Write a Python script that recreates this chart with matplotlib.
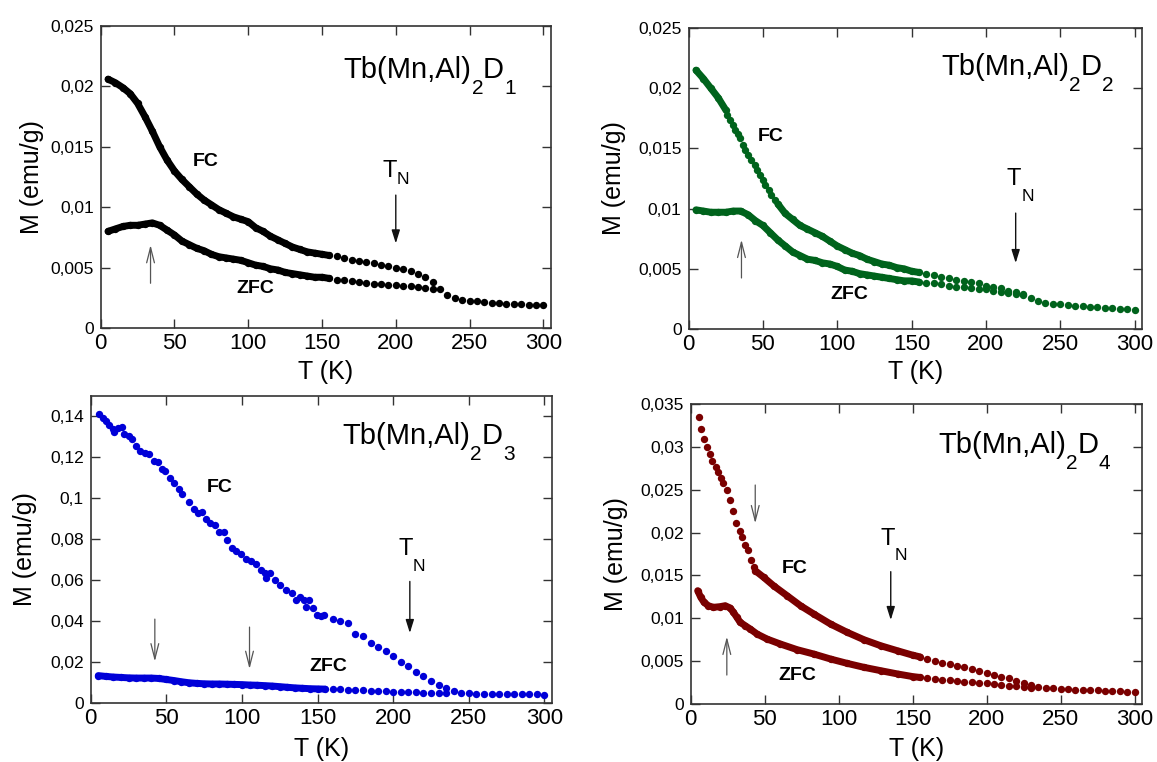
import matplotlib
matplotlib.use("Agg")
import matplotlib.pyplot as plt
import matplotlib.transforms as mtransforms
from matplotlib.ticker import MultipleLocator, FuncFormatter

plt.rcParams['font.family'] = ['Liberation Sans', 'DejaVu Sans']

# temperature grids (K)
t_band = [5, 10, 15, 20, 25, 30, 35, 40, 45, 50, 55, 60, 65, 70, 75, 80, 85, 90, 95, 100,
          105, 110, 115, 120, 125, 130, 135, 140, 145, 150, 155]
t_tail = [160, 165, 170, 175, 180, 185, 190, 195, 200, 205, 210, 215, 220, 225, 230, 235,
          240, 245, 250, 255, 260, 265, 270, 275, 280, 285, 290, 295, 300]

# ---- Tb(Mn,Al)2D1
m1_fc_band = [0.0206, 0.0203, 0.0199, 0.0194, 0.0186, 0.0175, 0.0163, 0.0150, 0.0139, 0.0130,
              0.0123, 0.0117, 0.0111, 0.0106, 0.0102, 0.0098, 0.0095, 0.0092, 0.0090, 0.0088,
              0.0083, 0.0080, 0.0076, 0.0073, 0.0070, 0.0067, 0.0065, 0.0063, 0.0062, 0.0061, 0.0060]
m1_zfc_band = [0.0080, 0.0082, 0.0084, 0.0085, 0.0085, 0.0086, 0.0087, 0.0085, 0.0081, 0.0077,
               0.0072, 0.0069, 0.0066, 0.0064, 0.0061, 0.0059, 0.0058, 0.0057, 0.0056, 0.0054,
               0.0052, 0.0051, 0.0049, 0.0048, 0.0046, 0.0045, 0.0044, 0.0043, 0.0042, 0.0042, 0.0041]
m1_fc_tail = [0.00594, 0.0058, 0.00566, 0.00556, 0.00547, 0.00534, 0.0052, 0.0051, 0.00497,
              0.00485, 0.0047, 0.00445, 0.0042, 0.0038, 0.00326, 0.0027, 0.00249, 0.00235,
              0.00224, 0.0022, 0.00215, 0.0021, 0.00205, 0.00202, 0.00198, 0.00195, 0.00192,
              0.0019, 0.00188]
m1_zfc_tail = [0.0040, 0.00393, 0.00387, 0.0038, 0.00373, 0.00368, 0.00362, 0.00358, 0.00354,
               0.0035, 0.00345, 0.0034, 0.00334, 0.00326]

# ---- Tb(Mn,Al)2D2
t2_fc_lo = [5, 10, 15, 20, 25]
m2_fc_lo = [0.0215, 0.0208, 0.0200, 0.0192, 0.0182]
t2_fc_mid = [26, 27.6, 29.8, 31.4, 33.2, 34.3, 36.5, 38.3, 40.3, 42.1, 44.4, 45.9, 47.8, 50,
             51.5, 53.8, 55.6, 57.9]
m2_fc_mid = [0.0178, 0.01739, 0.01697, 0.01656, 0.0162, 0.01586, 0.01531, 0.0149, 0.01448,
             0.01406, 0.01365, 0.01323, 0.01282, 0.0124, 0.01199, 0.01157, 0.01116, 0.01074]
m2_fc_hi = [0.0104, 0.0096, 0.0091, 0.0086, 0.0083, 0.0080, 0.0077, 0.0073, 0.0069, 0.0066,
            0.0063, 0.0061, 0.0058, 0.0056, 0.0054, 0.0053, 0.0051, 0.0050, 0.0048, 0.0047]
m2_zfc_band = [0.0099, 0.0098, 0.0097, 0.0097, 0.0097, 0.0098, 0.0098, 0.0095, 0.0090, 0.0086,
               0.0080, 0.0074, 0.0069, 0.0064, 0.0061, 0.0058, 0.0057, 0.0055, 0.0054, 0.0052,
               0.0049, 0.0048, 0.0046, 0.0045, 0.0044, 0.0043, 0.0042, 0.0041, 0.0040, 0.0040, 0.0039]
m2_fc_tail = [0.0046, 0.00446, 0.00432, 0.0042, 0.0041, 0.0040, 0.0039, 0.0038, 0.0036, 0.0035,
              0.0034, 0.0032, 0.0031, 0.0029, 0.0026, 0.00235, 0.0022, 0.0021, 0.00205, 0.0020,
              0.00195, 0.0019, 0.00186, 0.0018, 0.00178, 0.00173, 0.00168, 0.00163, 0.0016]
m2_zfc_tail = [0.0038, 0.0038, 0.0037, 0.0036, 0.0035, 0.0035, 0.0034, 0.0033, 0.0033, 0.0032,
               0.0031, 0.0030, 0.0029, 0.0028]

# ---- Tb(Mn,Al)2D3
t3_fc = [5.3, 7.9, 10.1, 11.9, 14.6, 15.6, 18.1, 20.7, 22.3, 25.2, 27.4, 30.2, 32.9, 36.2, 38.8,
         41.7, 44.6, 47.2, 49.4, 52.1, 55.0, 58.3, 60.5, 64.9, 68.2, 71.1, 73.3, 76.4, 79.2, 82.1,
         84.8, 88.1, 90.3, 93.6, 96.2, 99.1, 102.4, 105.7, 109.0, 112.3, 115.2, 116.1, 118.3,
         122.1, 125.4, 129.3, 133.1, 136.0, 138.6, 141.3, 142.6, 144.1, 147.0, 149.7, 152, 154.1]
m3_fc = [0.1411, 0.1394, 0.1378, 0.1357, 0.1337, 0.1324, 0.1345, 0.1349, 0.1313, 0.1305, 0.1291,
         0.1256, 0.1231, 0.1220, 0.1215, 0.1182, 0.1178, 0.1145, 0.1134, 0.1101, 0.1073, 0.1044,
         0.1020, 0.0980, 0.0949, 0.0930, 0.0932, 0.0898, 0.0881, 0.0868, 0.0836, 0.0836, 0.0796,
         0.0759, 0.0745, 0.0727, 0.0702, 0.0694, 0.0680, 0.0652, 0.0634, 0.0609, 0.0634, 0.0601,
         0.0577, 0.0552, 0.0536, 0.0503, 0.0519, 0.0503, 0.0471, 0.0503, 0.0463, 0.0430, 0.0425,
         0.0430]
m3_fc_tail = [0.0409, 0.0402, 0.0392, 0.0337, 0.0327, 0.0295, 0.0275, 0.0256, 0.0230, 0.0202,
              0.0181, 0.0153, 0.0134, 0.0106, 0.0090, 0.0073, 0.0057, 0.0049, 0.0047, 0.0046,
              0.0045, 0.0045, 0.0044, 0.0044, 0.0043, 0.0043, 0.0042, 0.0042, 0.0041]
m3_zfc_band = [0.0134, 0.0130, 0.0127, 0.0125, 0.0123, 0.0122, 0.0122, 0.0122, 0.0120, 0.0115,
               0.0110, 0.0104, 0.0099, 0.0096, 0.0094, 0.0093, 0.0093, 0.0092, 0.0091, 0.0090,
               0.0088, 0.0087, 0.0085, 0.0083, 0.0080, 0.0077, 0.0074, 0.0072, 0.0070, 0.0069, 0.0068]
m3_zfc_tail = [0.0068, 0.0067, 0.0065, 0.0064, 0.0062, 0.0060, 0.0058, 0.0057, 0.0055, 0.0054,
               0.0053, 0.0052, 0.0050, 0.0049, 0.0048, 0.0047]

# ---- Tb(Mn,Al)2D4
t4_fc_lo = [5.6, 7.0, 9.0, 10.9, 13.1, 14.7, 17.0, 18.7, 20.4, 22.1, 24.6, 26.7, 28.5, 30.7,
            33.0, 34.6, 37.0, 38.7, 40.7, 42.5]
m4_fc_lo = [0.03344, 0.03208, 0.03092, 0.02994, 0.02917, 0.02839, 0.02769, 0.02703, 0.02637,
            0.02578, 0.02497, 0.02376, 0.02248, 0.02116, 0.02014, 0.01944, 0.01855, 0.01797,
            0.0168, 0.01594]
t4_fc_band = [43.6, 49.3, 56.0, 65.1, 74.2, 83.2, 94.5, 105.8, 117.1, 128.4, 140, 150, 155]
m4_fc_band = [0.01556, 0.01478, 0.0138, 0.01264, 0.01147, 0.0105, 0.00933, 0.00836, 0.0075,
              0.0068, 0.0062, 0.0057, 0.0055]
t4_zfc_band = [4.7, 6.8, 9.0, 11.9, 15.3, 19.9, 23.3, 26.7, 28.9, 31.2, 33.4, 36.8, 40.2, 44.8,
               51.6, 60.6, 71.9, 83.2, 94.5, 105.8, 117.1, 128.4, 140, 150, 155]
m4_zfc_band = [0.01322, 0.01244, 0.01186, 0.01147, 0.01128, 0.01136, 0.01147, 0.0112, 0.01069,
               0.01011, 0.00953, 0.00914, 0.00875, 0.00817, 0.00758, 0.0070, 0.00634, 0.00583,
               0.00525, 0.00474, 0.00428, 0.00389, 0.0035, 0.0032, 0.0031]
m4_fc_tail = [0.00521, 0.00502, 0.00482, 0.00467, 0.00447, 0.00428, 0.00408, 0.00389, 0.00366,
              0.00342, 0.00319, 0.00307, 0.00268, 0.00249, 0.00222, 0.00202, 0.00191, 0.00183,
              0.00175, 0.00171, 0.00163, 0.00162, 0.0016, 0.00158, 0.00156, 0.00152, 0.00148,
              0.00145, 0.0014]
m4_zfc_tail = [0.0030, 0.00292, 0.00284, 0.0028, 0.00272, 0.00261, 0.00257, 0.00249, 0.00241,
               0.00233, 0.00222, 0.00214, 0.0021, 0.00202, 0.00191]

MS = 5.3   # dot size (pt)
LW = 5.0   # band width for the dense parts


def band(ax, t, m, c):
    ax.plot(t, m, '-o', color=c, lw=LW, ms=MS, mew=0,
            solid_capstyle='round', solid_joinstyle='round')


def dots(ax, t, m, c):
    ax.plot(t, m, 'o', color=c, ms=MS, mew=0)


def pieces(ax, x, y, parts, transform):
    # text made of pieces, each one lowered by some pixels (subscripts)
    renderer = fig.canvas.get_renderer()
    dx = 0.0
    for s, size, drop in parts:
        tr = mtransforms.offset_copy(transform, fig=fig, x=dx, y=-drop, units='dots')
        t = ax.text(x, y, s, transform=tr, fontsize=size, ha='left', va='baseline')
        dx += t.get_window_extent(renderer).width


def arrow(ax, x, y0, y1, dark=True):
    if dark:
        props = dict(arrowstyle='-|>,head_length=0.8,head_width=0.25', color='#111111',
                     lw=1.0, mutation_scale=10, shrinkA=0, shrinkB=0)
    else:
        props = dict(arrowstyle='->,head_length=1.1,head_width=0.28', color='#555555',
                     lw=0.9, mutation_scale=10, shrinkA=0, shrinkB=0)
    ax.annotate('', xy=(x, y1), xytext=(x, y0), arrowprops=props)


def comma(v, pos):
    return ('%g' % v).replace('.', ',')


def setup(ax, ymax, ystep, xl_y, yl_x):
    ax.set_xlim(0, 305)
    ax.set_ylim(0, ymax)
    ax.xaxis.set_major_locator(MultipleLocator(50))
    ax.yaxis.set_major_locator(MultipleLocator(ystep))
    ax.yaxis.set_major_formatter(FuncFormatter(comma))
    ax.tick_params(direction='in', top=True, right=True, length=6.5, width=1.0,
                   color='#333333')
    ax.tick_params(axis='x', labelsize=16, pad=3.5)
    ax.tick_params(axis='y', labelsize=12.5, pad=5)
    for sp in ax.spines.values():
        sp.set_color('#333333')
        sp.set_linewidth(1.2)
    ax.set_xlabel('T (K)', fontsize=18)
    ax.set_ylabel('M (emu/g)', fontsize=18)
    ax.xaxis.set_label_coords(0.5, xl_y)
    ax.yaxis.set_label_coords(yl_x, 0.5)


fig = plt.figure(figsize=(11.57, 7.62), dpi=100)
ax1 = fig.add_axes([0.0870, 0.5696, 0.389, 0.3963])
ax2 = fig.add_axes([0.5951, 0.5682, 0.392, 0.395])
ax3 = fig.add_axes([0.0784, 0.0774, 0.3987, 0.4029])
ax4 = fig.add_axes([0.5970, 0.0761, 0.390, 0.3937])

# panel 1
c = 'black'
band(ax1, t_band, m1_fc_band, c)
band(ax1, t_band, m1_zfc_band, c)
dots(ax1, t_tail, m1_fc_tail, c)
dots(ax1, t_tail[:len(m1_zfc_tail)], m1_zfc_tail, c)
setup(ax1, 0.025, 0.005, -0.106, -0.126)
ax1.text(71.4, 0.01376, 'FC', fontsize=14, fontweight='bold', ha='center', va='center')
ax1.text(105, 0.00323, 'ZFC', fontsize=14, fontweight='bold', ha='center', va='center')
arrow(ax1, 200, 0.011, 0.0070)
arrow(ax1, 33.8, 0.0037, 0.00687, dark=False)

# panel 2
c = '#00631c'
band(ax2, t2_fc_lo, m2_fc_lo, c)
dots(ax2, t2_fc_mid, m2_fc_mid, c)
band(ax2, t_band[11:], m2_fc_hi, c)
band(ax2, t_band, m2_zfc_band, c)
dots(ax2, t_tail, m2_fc_tail, c)
dots(ax2, t_tail[:len(m2_zfc_tail)], m2_zfc_tail, c)
setup(ax2, 0.025, 0.005, -0.103, -0.138)
ax2.text(55.5, 0.01595, 'FC', fontsize=14, fontweight='bold', ha='center', va='center')
ax2.text(108.3, 0.00285, 'ZFC', fontsize=14, fontweight='bold', ha='center', va='center')
arrow(ax2, 220, 0.00963, 0.00548)
arrow(ax2, 35.6, 0.00424, 0.00742, dark=False)

# panel 3
c = '#0000d8'
dots(ax3, t3_fc, m3_fc, c)
dots(ax3, t_tail, m3_fc_tail, c)
band(ax3, t_band, m3_zfc_band, c)
dots(ax3, t_tail[:len(m3_zfc_tail)], m3_zfc_tail, c)
setup(ax3, 0.15, 0.02, -0.111, -0.116)
ax3.text(85.1, 0.1055, 'FC', fontsize=14, fontweight='bold', ha='center', va='center')
ax3.text(157, 0.0176, 'ZFC', fontsize=14, fontweight='bold', ha='center', va='center')
arrow(ax3, 211, 0.0594, 0.0342)
arrow(ax3, 42.4, 0.041, 0.0203, dark=False)
arrow(ax3, 105, 0.0371, 0.0166, dark=False)

# panel 4
c = '#7a0000'
dots(ax4, t4_fc_lo, m4_fc_lo, c)
band(ax4, t4_fc_band, m4_fc_band, c)
band(ax4, t4_zfc_band, m4_zfc_band, c)
dots(ax4, t_tail, m4_fc_tail, c)
dots(ax4, t_tail[:len(m4_zfc_tail)], m4_zfc_tail, c)
setup(ax4, 0.035, 0.005, -0.11, -0.139)
ax4.text(70.2, 0.01583, 'FC', fontsize=14, fontweight='bold', ha='center', va='center')
ax4.text(72.2, 0.00327, 'ZFC', fontsize=14, fontweight='bold', ha='center', va='center')
arrow(ax4, 135.2, 0.01544, 0.0098)
arrow(ax4, 43.6, 0.02555, 0.02108, dark=False)
arrow(ax4, 24.4, 0.00338, 0.00786, dark=False)

# sample names
for ax, n, (x, y) in [(ax1, '1', (0.540, 0.828)), (ax2, '2', (0.557, 0.844)),
                      (ax3, '3', (0.546, 0.844)), (ax4, '4', (0.549, 0.836))]:
    pieces(ax, x, y, [('Tb(Mn,Al)', 21, 0), ('2', 15, 16), ('D', 21, 0), (n, 15, 16)],
           ax.transAxes)

# Neel temperature labels
for ax, (x, y), drop in [(ax1, (191, 0.01251), 7), (ax2, (214, 0.01199), 16),
                         (ax3, (203.6, 0.0724), 16), (ax4, (128.2, 0.01855), 15)]:
    pieces(ax, x, y, [('T', 17, 0), ('N', 12.5, drop)], ax.transData)

fig.savefig('out.png', dpi=100)
